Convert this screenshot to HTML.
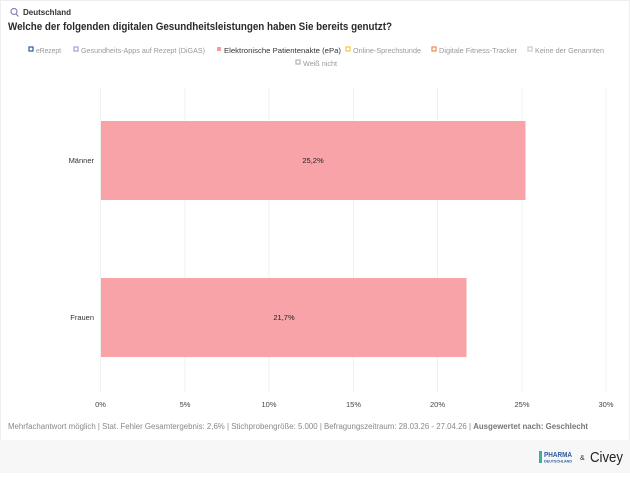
<!DOCTYPE html>
<html><head><meta charset="utf-8"><style>
html,body{margin:0;padding:0;background:#fff;}
body{width:630px;height:473px;overflow:hidden;font-family:"Liberation Sans",sans-serif;}
svg text{font-family:"Liberation Sans",sans-serif;}
</style></head><body>
<svg width="630" height="473" viewBox="0 0 630 473" xmlns="http://www.w3.org/2000/svg">
<rect x="0" y="0" width="630" height="473" fill="#fff"/>
<rect x="0.5" y="0.5" width="629" height="472" fill="none" stroke="#eee"/>
<circle cx="14" cy="11.5" r="3" fill="none" stroke="#8b7fb8" stroke-width="1.2"/>
<line x1="16" y1="14" x2="18.5" y2="16.5" stroke="#8b7fb8" stroke-width="1.2"/>
<text x="23" y="15" font-size="8" font-weight="bold" fill="#333">Deutschland</text>
<text x="8" y="30" font-size="11" font-weight="bold" fill="#2a2a2a" textLength="384" lengthAdjust="spacingAndGlyphs">Welche der folgenden digitalen Gesundheitsleistungen haben Sie bereits genutzt?</text>
<g font-size="7.5" fill="#999">
<rect x="29" y="47" width="4" height="4" fill="none" stroke="#2b5aa0" stroke-width="1.2"/><text x="36" y="53" textLength="25" lengthAdjust="spacingAndGlyphs">eRezept</text>
<rect x="74" y="47" width="4" height="4" fill="none" stroke="#9e9fd8" stroke-width="1.2"/><text x="81" y="53" textLength="124" lengthAdjust="spacingAndGlyphs">Gesundheits-Apps auf Rezept (DiGAS)</text>
<rect x="217" y="47" width="4" height="4" fill="#f59ba3"/><text x="224" y="53" fill="#333" textLength="117" lengthAdjust="spacingAndGlyphs">Elektronische Patientenakte (ePa)</text>
<rect x="346" y="47" width="4" height="4" fill="none" stroke="#f0c93c" stroke-width="1.2"/><text x="353" y="53" textLength="68" lengthAdjust="spacingAndGlyphs">Online-Sprechstunde</text>
<rect x="432" y="47" width="4" height="4" fill="none" stroke="#ef8a4a" stroke-width="1.2"/><text x="439" y="53" textLength="78" lengthAdjust="spacingAndGlyphs">Digitale Fitness-Tracker</text>
<rect x="528" y="47" width="4" height="4" fill="none" stroke="#ccc" stroke-width="1.2"/><text x="535" y="53" textLength="69" lengthAdjust="spacingAndGlyphs">Keine der Genannten</text>
<rect x="296" y="60" width="4" height="4" fill="none" stroke="#a8b8c0" stroke-width="1.2"/><text x="303" y="66" textLength="34" lengthAdjust="spacingAndGlyphs">Weiß nicht</text>
</g>
<g stroke="#f0f0f0" stroke-width="1">
<line x1="100.5" y1="88" x2="100.5" y2="392"/>
<line x1="185" y1="88" x2="185" y2="392"/>
<line x1="269" y1="88" x2="269" y2="392"/>
<line x1="353.5" y1="88" x2="353.5" y2="392"/>
<line x1="437.5" y1="88" x2="437.5" y2="392"/>
<line x1="522" y1="88" x2="522" y2="392"/>
<line x1="606" y1="88" x2="606" y2="392"/>
</g>
<rect x="101" y="121" width="424.5" height="79" fill="#f7a3a8"/>
<rect x="101" y="278" width="365.5" height="79" fill="#f7a3a8"/>
<g font-size="7.5" fill="#222" text-anchor="middle">
<text x="313" y="163">25,2%</text>
<text x="284" y="320">21,7%</text>
</g>
<g font-size="7.5" fill="#333" text-anchor="end">
<text x="94" y="163">Männer</text>
<text x="94" y="320">Frauen</text>
</g>
<g font-size="7.5" fill="#444" text-anchor="middle">
<text x="100.5" y="407">0%</text>
<text x="185" y="407">5%</text>
<text x="269" y="407">10%</text>
<text x="353.5" y="407">15%</text>
<text x="437.5" y="407">20%</text>
<text x="522" y="407">25%</text>
<text x="606" y="407">30%</text>
</g>
<text x="8" y="429" font-size="7.8" fill="#888" textLength="580" lengthAdjust="spacingAndGlyphs">Mehrfachantwort möglich | Stat. Fehler Gesamtergebnis: 2,6% | Stichprobengröße: 5.000 | Befragungszeitraum: 28.03.26 - 27.04.26 | <tspan font-weight="bold" fill="#777">Ausgewertet nach: Geschlecht</tspan></text>
<rect x="0" y="440" width="630" height="33" fill="#f7f7f7"/>
<rect x="539" y="451" width="3" height="12" fill="#3bb0a0"/>
<text x="544" y="457" font-size="7" font-weight="bold" fill="#2b5aa0" textLength="28" lengthAdjust="spacingAndGlyphs">PHARMA</text>
<text x="544" y="462.5" font-size="3.5" font-weight="bold" fill="#2b5aa0" textLength="28" lengthAdjust="spacingAndGlyphs">DEUTSCHLAND</text>
<text x="580" y="460" font-size="7" fill="#333">&amp;</text>
<text x="590" y="462" font-size="15" fill="#222" textLength="33" lengthAdjust="spacingAndGlyphs">Civey</text>
</svg>
</body></html>
